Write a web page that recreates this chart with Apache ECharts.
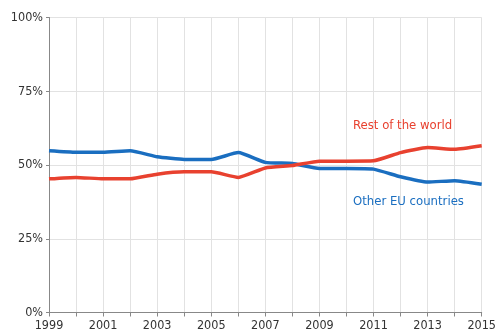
<!DOCTYPE html>
<html><head><meta charset="utf-8">
<script src="https://cdn.jsdelivr.net/npm/echarts@6/dist/echarts.min.js"></script>
<style>html,body{margin:0;padding:0;background:#fff}#c{width:499px;height:336px}</style>
</head><body><div id="c"></div>
<script>
const years = ['1999','2000','2001','2002','2003','2004','2005','2006','2007','2008','2009','2010','2011','2012','2013','2014','2015'];
const restOfWorld = [45.3,45.8,45.3,45.3,46.9,47.7,47.7,45.8,49.0,49.8,51.3,51.3,51.4,54.2,55.9,55.3,56.5];
const otherEU = [54.8,54.3,54.3,54.8,52.8,51.9,51.9,54.2,50.9,50.5,48.8,48.8,48.6,46.0,44.2,44.7,43.5];
const yTicks = [0,25,50,75,100];
const labelRest = 'Rest of the world';
const labelEU = 'Other EU countries';

const chart = echarts.init(document.getElementById('c'));
const font = 'DejaVu Sans Condensed, DejaVu Sans, sans-serif';
chart.setOption({
  animation:false,
  grid:{left:49,right:14,top:17.5,bottom:23.5},
  xAxis:{type:'category',data:years,boundaryGap:false,
    axisLine:{lineStyle:{color:'#888',width:1}},
    axisTick:{show:true,interval:0,length:4,lineStyle:{color:'#888'}},
    axisLabel:{interval:1,color:'#333',fontFamily:font,fontSize:12.5,margin:7},
    splitLine:{show:true,interval:0,lineStyle:{color:'#e2e2e2'}}},
  yAxis:{type:'value',min:0,max:100,interval:25,
    axisLine:{show:true,lineStyle:{color:'#888'}},
    axisTick:{show:true,length:3,lineStyle:{color:'#888'}},
    axisLabel:{formatter:v=>yTicks.includes(v)?v+'%':'',color:'#333',fontFamily:font,fontSize:12.5,margin:6},
    splitLine:{lineStyle:{color:'#e2e2e2'}}},
  series:[
    {name:labelRest,type:'line',data:restOfWorld,symbol:'none',smooth:0.15,lineStyle:{color:'#e8412f',width:3.5},z:3},
    {name:labelEU,type:'line',data:otherEU,symbol:'none',smooth:0.15,lineStyle:{color:'#1a6ec0',width:3.5},z:2}
  ],
  graphic:[
    {type:'text',z:100,left:353,top:119,style:{text:labelRest,fill:'#e8412f',font:'13px '+font}},
    {type:'text',z:100,left:353,top:195,style:{text:labelEU,fill:'#1a6ec0',font:'13px '+font}}
  ]
});
</script></body></html>
